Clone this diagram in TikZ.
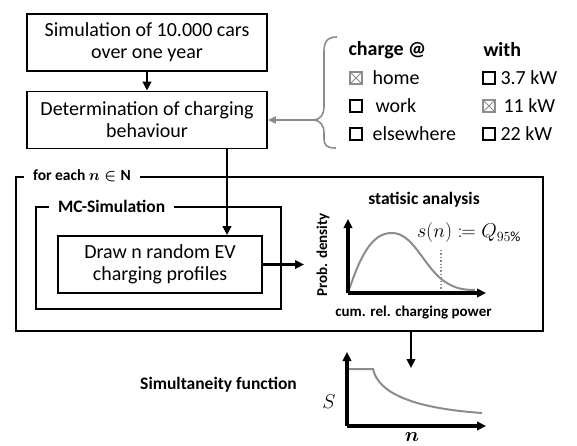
\RequirePackage{fix-cm}
\documentclass[tikz,border=0pt]{standalone}
\usepackage{amsmath,mathtools,bm}
\usepackage{fontspec}
\setmainfont{Carlito}
\usetikzlibrary{arrows.meta,positioning,calc}

\definecolor{linegray}{RGB}{140,140,140}

\tikzset{
    box/.style={draw, line width=1.8pt, minimum width=240pt, minimum height=57pt, inner sep=0pt,
        align=center, font=\fontsize{20}{22}\selectfont},
    frame/.style={draw, line width=2pt, inner sep=0pt},
    framelabel/.style={fill=white, inner xsep=9pt, font=\bfseries\fontsize{17.5}{20}\selectfont},
    arr/.style={line width=2.6pt, -{Triangle[length=9pt,width=8.5pt]}},
    axis/.style={line width=3.2pt, -{Triangle[length=9pt,width=8.5pt]}},
    curve/.style={linegray, line width=2pt},
    title/.style={font=\bfseries\fontsize{17.5}{20}\selectfont},
    axlabel/.style={font=\bfseries\fontsize{15}{17}\selectfont},
    head/.style={anchor=west, font=\bfseries\fontsize{20}{22}\selectfont},
    opt/.style={anchor=west, font=\fontsize{20}{22}\selectfont},
    cb/.style={draw, line width=1.2pt, minimum size=12pt, inner sep=0pt},
    cbx/.style={cb, draw=linegray, path picture={
        \draw[linegray, line width=1pt] (path picture bounding box.south west) -- (path picture bounding box.north east)
            (path picture bounding box.north west) -- (path picture bounding box.south east);}},
}

\begin{document}
\begin{tikzpicture}[x=1pt,y=-1pt]
    \useasboundingbox (0,0) rectangle (577,446);

    \node[box] (sim) at (147,42.5) {Simulation of 10.000 cars\\over one year};
    \node[box] (det) at (147,120) {Determination of charging\\behaviour};
    \draw[arr] (sim) -- (det);

    \coordinate (tip) at (313,120);
    \draw[linegray, line width=1.6pt] (337,37) .. controls (327,37) and (324,42) .. (324,52) -- (324,106)
        .. controls (324,115) and (320,120) .. (tip) .. controls (320,120) and (324,125) .. (324,133) -- (324,138)
        .. controls (324,146) and (327,148) .. (336,148);
    \draw[linegray, line width=2pt, -{Triangle[length=8pt,width=7pt]}] (tip) -- (det.east);

    \node[head] (charge) at (345,50) {charge @};
    \node[head] (with) at (480,50) {with};
    \node[cbx] (homebox) at (356,78) {};
    \node[opt] (home) at (369,78) {home};
    \node[cb] (workbox) at (356,106) {};
    \node[opt] (work) at (372,106) {work};
    \node[cb] (elsebox) at (356,134) {};
    \node[opt] (else) at (369,134) {elsewhere};
    \node[cb] (lowbox) at (489,78) {};
    \node[opt] (low) at (497,78) {3.7 kW};
    \node[cbx] (midbox) at (489,106) {};
    \node[opt] (mid) at (500,106) {11 kW};
    \node[cb] (highbox) at (489,134) {};
    \node[opt] (high) at (497,134) {22 kW};

    \node[frame, minimum width=527pt, minimum height=154pt] (loop) at (279.5,254) {};
    \node[framelabel, right=9pt of loop.north west, font=\bfseries\fontsize{15.5}{18}\selectfont] (looplabel) {for each $\bm{n\in}\mathbf{N}$};
    \node[frame, minimum width=245pt, minimum height=102pt] (mc) at (158.5,258) {};
    \node[framelabel, right=14pt of mc.north west] (mclabel) {MC-Simulation};

    \node[box, minimum width=204pt] (prof) at (160,264.5) {Draw n random EV\\charging profiles};
    \draw[arr] ([xshift=80pt]det.south) -- ([xshift=80pt]det.south |- prof.north);

    \coordinate (pdfin) at (304,264.5);
    \draw[arr] (prof.east) -- (pdfin);

    \coordinate (o1) at (348,293);
    \coordinate (y1) at (348,219);
    \coordinate (x1) at (486,293);
    \draw[curve] (o1) .. controls (362,250) and (374,233) .. (392,233) .. controls (412,233) and (422,262) .. (440,278)
        .. controls (452,288) and (462,290) .. (475,290);
    \draw[linegray, dotted, line width=1.4pt] (441,250) -- (441,293);
    \draw[axis] (o1) -- (y1);
    \draw[axis] (o1) -- (x1);
    \node[axlabel, rotate=90] (ylab) at (323,255) {Prob. density};
    \node[axlabel] (xlab) at (413.5,313) {cum. rel. charging power};
    \node[title] (stat) at (424,200) {statisic analysis};
    \node[font=\fontsize{20}{22}\selectfont] (quant) at (469,233) {$s(n) \coloneqq Q_{95\%}$};

    \coordinate (simin) at (411,368);
    \draw[arr] (loop.south -| simin) -- (simin);

    \coordinate (o2) at (347,426);
    \coordinate (y2) at (347,352);
    \coordinate (x2) at (486,426);
    \draw[curve] (347,369) -- (373,369) .. controls (378,392) and (410,408) .. (482,413);
    \draw[axis] (o2) -- (y2);
    \draw[axis] (o2) -- (x2);
    \node[font=\fontsize{20}{22}\selectfont] (slab) at (329,402) {$S$};
    \node[font=\fontsize{20}{22}\selectfont] (nlab) at (412,437) {$\bm{n}$};
    \node[title] (simfun) at (218.5,385) {Simultaneity function};
\end{tikzpicture}
\end{document}
